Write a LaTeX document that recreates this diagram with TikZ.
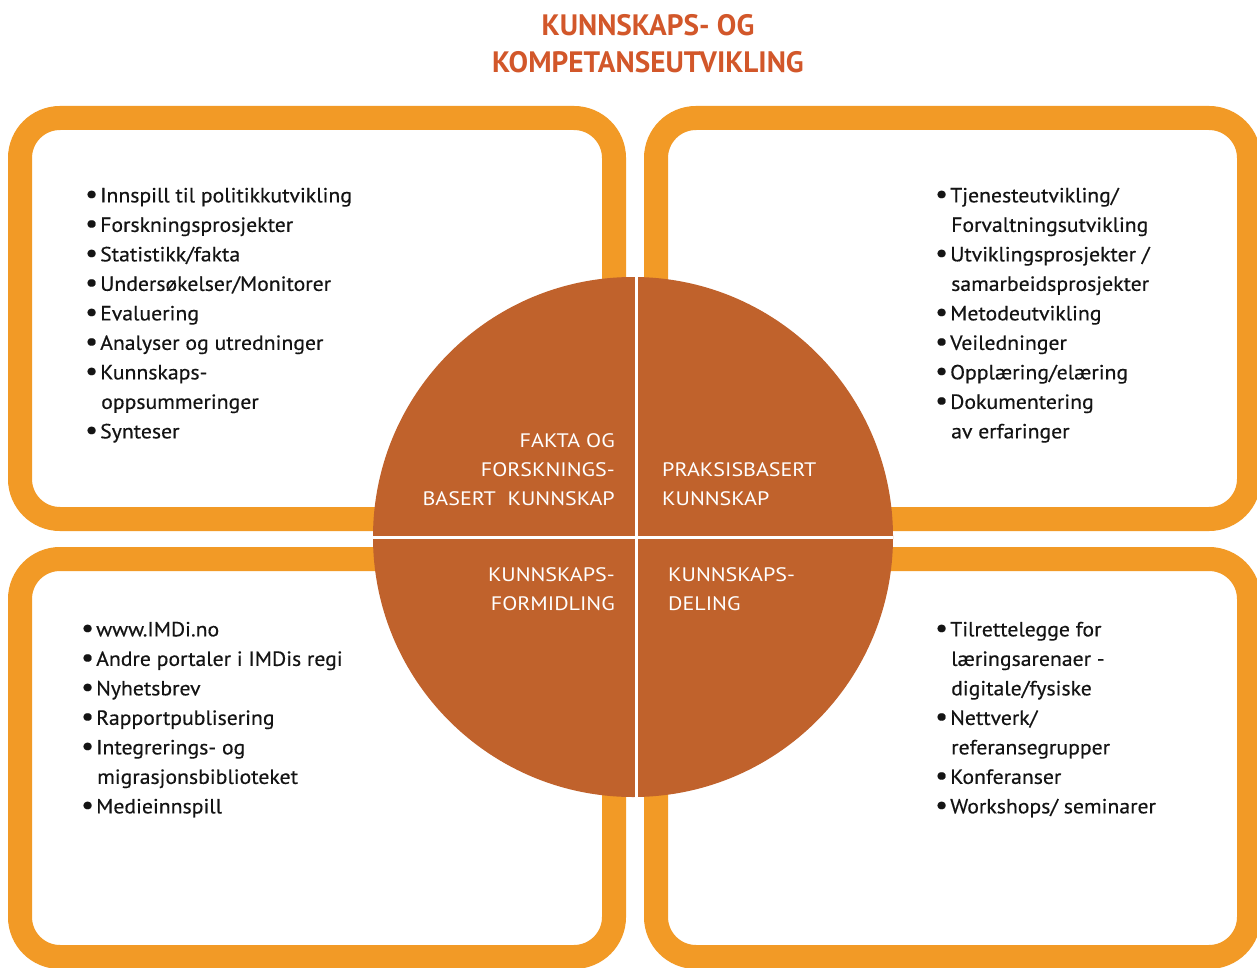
\documentclass[tikz,border=0pt]{standalone}
\usepackage{fontspec}
\setmainfont{PT Sans}
\newfontfamily\bodyfont[FakeStretch=1.06,FakeBold=0.4]{PT Sans}
\newfontfamily\labelfont[FakeStretch=1.13]{PT Sans}
\newfontfamily\titlefont[FakeStretch=0.99]{PT Sans}
\definecolor{boxorange}{HTML}{F29A26}
\definecolor{circfill}{HTML}{C0622C}
\definecolor{titlecol}{HTML}{D2572A}
\newcommand\bl{\makebox[15pt][l]{\raisebox{-0.02em}{\scalebox{1.3}{\textbullet}}}}
\newcommand\cn{\hspace*{16pt}}
\begin{document}
\begin{tikzpicture}[x=1pt,y=-1pt,
  frame/.style={draw=boxorange, line width=24pt, rounded corners=40pt, fill=white},
  listtext/.style={anchor=north west, align=left, inner sep=0pt, text=black!92,
    font=\bodyfont\fontsize{20.5}{29.5}\selectfont},
  clabel/.style={inner sep=0pt, text=white, font=\labelfont\fontsize{19.5}{29}\selectfont},
  titletext/.style={inner sep=0pt, text=titlecol, align=center,
    font=\titlefont\bfseries\fontsize{29.5}{37.5}\selectfont}]
\useasboundingbox (0,0) rectangle (1257,968);
\fill[white] (0,0) rectangle (1257,968);
% title
\node[titletext] (title) at (648,43.5) {KUNNSKAPS- OG\\KOMPETANSEUTVIKLING};
% frames
\draw[frame] (20,118) rectangle (614,519);
\draw[frame] (656,118) rectangle (1249,519);
\draw[frame] (20,559) rectangle (614,957);
\draw[frame] (656,559) rectangle (1249,957);
% circle
\fill[circfill] (633,537) circle (260pt);
\draw[white, line width=3pt] (636,277) -- (636,797);
\draw[white, line width=3pt] (373,537) -- (893,537);
% circle labels
\node[clabel, anchor=east, align=right] (fakta) at (615,470) {FAKTA OG\\FORSKNINGS-\\BASERT\ \ KUNNSKAP};
\node[clabel, anchor=west, align=left] (praksis) at (662,484.5) {PRAKSISBASERT\\KUNNSKAP};
\node[clabel, anchor=east, align=right] (formidling) at (615,589.5) {KUNNSKAPS-\\FORMIDLING};
\node[clabel, anchor=west, align=left] (deling) at (668,589.5) {KUNNSKAPS-\\DELING};
% lists
\node[listtext] (tl) at (85,181.5) {\strut\bl Innspill til politikkutvikling\\
\bl Forskningsprosjekter\\
\bl Statistikk/fakta\\
\bl Undersøkelser/Monitorer\\
\bl Evaluering\\
\bl Analyser og utredninger\\
\bl Kunnskaps-\\
\cn oppsummeringer\\
\bl Synteser};
\node[listtext] (tr) at (935,181.5) {\strut\bl Tjenesteutvikling/\\
\cn Forvaltningsutvikling\\
\bl Utviklingsprosjekter /\\
\cn samarbeidsprosjekter\\
\bl Metodeutvikling\\
\bl Veiledninger\\
\bl Opplæring/elæring\\
\bl Dokumentering\\
\cn av erfaringer};
\node[listtext] (bll) at (81,615.5) {\strut\bl www.IMDi.no\\
\bl Andre portaler i IMDis regi\\
\bl Nyhetsbrev\\
\bl Rapportpublisering\\
\bl Integrerings- og\\
\cn migrasjonsbiblioteket\\
\bl Medieinnspill};
\node[listtext] (br) at (935,615.5) {\strut\bl Tilrettelegge for\\
\cn læringsarenaer -\\
\cn digitale/fysiske\\
\bl Nettverk/\\
\cn referansegrupper\\
\bl Konferanser\\
\bl Workshops/ seminarer};
\end{tikzpicture}
\end{document}
